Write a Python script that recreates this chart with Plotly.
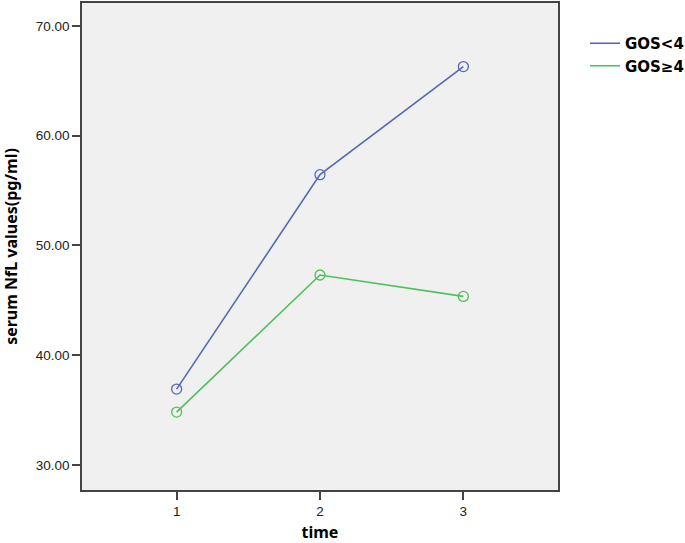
import plotly.graph_objects as go

time_points = [1, 2, 3]
gos_lt4 = [36.9, 56.45, 66.3]
gos_ge4 = [34.8, 47.3, 45.35]
series_names = ["GOS&lt;4", "GOS≥4"]
y_ticks = [30, 40, 50, 60, 70]
y_tick_labels = ["30.00", "40.00", "50.00", "60.00", "70.00"]

colors = ["#5667b9", "#4fc15b"]

fig = go.Figure()
for name, vals, c in zip(series_names, [gos_lt4, gos_ge4], colors):
    fig.add_trace(go.Scatter(x=time_points, y=vals, mode="lines", name=name,
                             line=dict(color=c, width=1.6), showlegend=True))
    fig.add_trace(go.Scatter(x=time_points, y=vals, mode="markers", name=name,
                             marker=dict(symbol="circle-open", size=10, color=c,
                                         line=dict(width=1.3, color=c)),
                             showlegend=False))

fig.update_layout(
    width=685, height=543,
    margin=dict(l=82, r=127, t=3, b=53, autoexpand=False),
    paper_bgcolor="white",
    plot_bgcolor="#f0f0f0",
    legend=dict(x=(585 - 82) / 476, y=(490 - 27) / 487, xanchor="left", yanchor="top",
                font=dict(family="DejaVu Sans", size=15, color="black", weight="bold"),
                bgcolor="rgba(0,0,0,0)", tracegroupgap=0, itemwidth=30),
    xaxis=dict(range=[0.34, 3.66], tickvals=time_points, ticktext=["1", "2", "3"],
               automargin=False,
               showgrid=False, zeroline=False, showline=True, linecolor="#444", linewidth=1.5,
               mirror=True, ticks="outside", ticklen=8, tickwidth=1.5, tickcolor="#444",
               tickfont=dict(family="Liberation Sans", size=13.5, color="#222"),
               title=dict(text="time", standoff=14,
                          font=dict(family="Noto Sans", size=16, color="black", weight="bold"))),
    yaxis=dict(range=[27.7, 72.1], tickvals=y_ticks, ticktext=y_tick_labels,
               automargin=False,
               showgrid=False, zeroline=False, showline=True, linecolor="#444", linewidth=1.5,
               mirror=True, ticks="outside", ticklen=8, tickwidth=1.5, tickcolor="#444",
               tickfont=dict(family="Liberation Sans", size=13.5, color="#222"),
               title=dict(text="serum NfL values(pg/ml)", standoff=14,
                          font=dict(family="Noto Sans", size=16, color="black", weight="bold"))),
)

fig.write_html("out.html", config={"displayModeBar": False},
               post_script="document.body.style.margin='0';")
